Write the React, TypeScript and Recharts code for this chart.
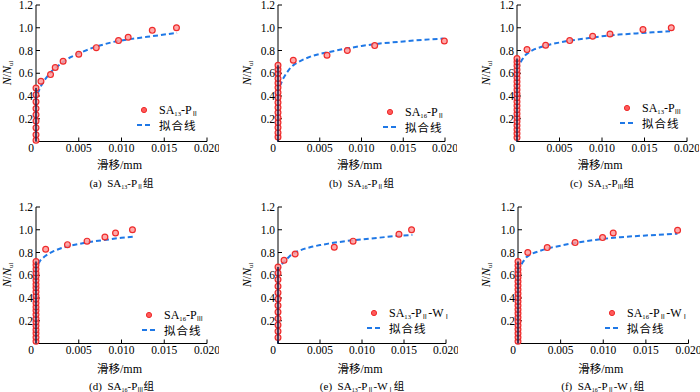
import React from 'react';
import { ComposedChart, Scatter, Line, XAxis, YAxis } from 'recharts';

type Pt = { x: number; y: number };

// ---------- data ----------
const xTicks = [0, 0.005, 0.01, 0.015, 0.02];
const yTicks = [0.2, 0.4, 0.6, 0.8, 1.0, 1.2];

const testA: Pt[] = [
  { x: 0, y: 0.01 }, { x: 0, y: 0.06 }, { x: 0, y: 0.12 }, { x: 0, y: 0.18 }, { x: 0, y: 0.235 },
  { x: 0, y: 0.29 }, { x: 0, y: 0.35 }, { x: 0, y: 0.41 }, { x: 0, y: 0.47 },
  { x: 0.00058, y: 0.53 }, { x: 0.0017, y: 0.588 }, { x: 0.00225, y: 0.65 }, { x: 0.00317, y: 0.705 },
  { x: 0.005, y: 0.767 }, { x: 0.00705, y: 0.825 }, { x: 0.00965, y: 0.887 }, { x: 0.01078, y: 0.916 },
  { x: 0.0136, y: 0.977 }, { x: 0.01643, y: 1.0 },
];
const fitA: Pt[] = [
  { x: 0, y: 0 }, { x: 0, y: 0.38 }, { x: 0.0003, y: 0.44 }, { x: 0.0006, y: 0.49 }, { x: 0.001, y: 0.54 },
  { x: 0.0015, y: 0.59 }, { x: 0.002, y: 0.63 }, { x: 0.003, y: 0.69 }, { x: 0.004, y: 0.74 },
  { x: 0.005, y: 0.775 }, { x: 0.007, y: 0.835 }, { x: 0.009, y: 0.875 }, { x: 0.011, y: 0.9 },
  { x: 0.013, y: 0.92 }, { x: 0.015, y: 0.94 }, { x: 0.0165, y: 0.955 },
];

const testB: Pt[] = [
  { x: 0, y: 0.04 }, { x: 0, y: 0.078 }, { x: 0, y: 0.122 }, { x: 0, y: 0.166 }, { x: 0, y: 0.21 },
  { x: 0, y: 0.254 }, { x: 0, y: 0.298 }, { x: 0, y: 0.342 }, { x: 0, y: 0.386 }, { x: 0, y: 0.43 },
  { x: 0, y: 0.474 }, { x: 0, y: 0.514 }, { x: 0, y: 0.553 }, { x: 0, y: 0.6 }, { x: 0, y: 0.635 },
  { x: 0, y: 0.67 },
  { x: 0.00183, y: 0.714 }, { x: 0.00587, y: 0.758 }, { x: 0.0083, y: 0.8 }, { x: 0.01158, y: 0.843 },
  { x: 0.01992, y: 0.884 },
];
const fitB: Pt[] = [
  { x: 0, y: 0 }, { x: 0, y: 0.47 }, { x: 0.0003, y: 0.5 }, { x: 0.0006, y: 0.55 }, { x: 0.001, y: 0.6 },
  { x: 0.0015, y: 0.65 }, { x: 0.002, y: 0.68 }, { x: 0.003, y: 0.72 }, { x: 0.004, y: 0.75 },
  { x: 0.005, y: 0.77 }, { x: 0.006, y: 0.785 }, { x: 0.008, y: 0.815 }, { x: 0.01, y: 0.84 },
  { x: 0.012, y: 0.86 }, { x: 0.015, y: 0.88 }, { x: 0.0175, y: 0.895 }, { x: 0.0198, y: 0.905 },
];

const testC: Pt[] = [
  { x: 0, y: 0.035 }, { x: 0, y: 0.07 }, { x: 0, y: 0.105 }, { x: 0, y: 0.14 }, { x: 0, y: 0.175 },
  { x: 0, y: 0.21 }, { x: 0, y: 0.245 }, { x: 0, y: 0.28 }, { x: 0, y: 0.315 }, { x: 0, y: 0.35 },
  { x: 0, y: 0.385 }, { x: 0, y: 0.42 }, { x: 0, y: 0.455 }, { x: 0, y: 0.49 }, { x: 0, y: 0.525 },
  { x: 0, y: 0.56 }, { x: 0, y: 0.595 }, { x: 0, y: 0.63 }, { x: 0, y: 0.665 }, { x: 0, y: 0.7 },
  { x: 0, y: 0.73 },
  { x: 0.00118, y: 0.808 }, { x: 0.00337, y: 0.846 }, { x: 0.0062, y: 0.887 }, { x: 0.0089, y: 0.925 },
  { x: 0.01094, y: 0.945 }, { x: 0.01482, y: 0.984 }, { x: 0.01815, y: 1.0 },
];
const fitC: Pt[] = [
  { x: 0, y: 0 }, { x: 0, y: 0.62 }, { x: 0.0003, y: 0.68 }, { x: 0.0006, y: 0.72 }, { x: 0.001, y: 0.76 },
  { x: 0.0015, y: 0.79 }, { x: 0.002, y: 0.81 }, { x: 0.003, y: 0.835 }, { x: 0.004, y: 0.855 },
  { x: 0.005, y: 0.87 }, { x: 0.006, y: 0.885 }, { x: 0.008, y: 0.905 }, { x: 0.01, y: 0.925 },
  { x: 0.012, y: 0.94 }, { x: 0.014, y: 0.95 }, { x: 0.016, y: 0.96 }, { x: 0.018, y: 0.97 },
];

const testD: Pt[] = [
  { x: 0, y: 0.02 }, { x: 0, y: 0.055 }, { x: 0, y: 0.09 }, { x: 0, y: 0.12 }, { x: 0, y: 0.155 },
  { x: 0, y: 0.19 }, { x: 0, y: 0.22 }, { x: 0, y: 0.255 }, { x: 0, y: 0.29 }, { x: 0, y: 0.32 },
  { x: 0, y: 0.355 }, { x: 0, y: 0.39 }, { x: 0, y: 0.42 }, { x: 0, y: 0.455 }, { x: 0, y: 0.49 },
  { x: 0, y: 0.52 }, { x: 0, y: 0.555 }, { x: 0, y: 0.59 }, { x: 0, y: 0.62 }, { x: 0, y: 0.655 },
  { x: 0, y: 0.69 }, { x: 0, y: 0.72 },
  { x: 0.00113, y: 0.828 }, { x: 0.00368, y: 0.869 }, { x: 0.00597, y: 0.9 }, { x: 0.00806, y: 0.936 },
  { x: 0.0093, y: 0.971 }, { x: 0.01128, y: 1.0 },
];
const fitD: Pt[] = [
  { x: 0, y: 0 }, { x: 0, y: 0.63 }, { x: 0.0002, y: 0.69 }, { x: 0.0005, y: 0.73 }, { x: 0.001, y: 0.765 },
  { x: 0.0015, y: 0.79 }, { x: 0.002, y: 0.81 }, { x: 0.003, y: 0.84 }, { x: 0.004, y: 0.86 },
  { x: 0.005, y: 0.875 }, { x: 0.006, y: 0.89 }, { x: 0.008, y: 0.91 }, { x: 0.01, y: 0.93 },
  { x: 0.0115, y: 0.94 },
];

const testE: Pt[] = [
  { x: 0, y: 0.052 }, { x: 0, y: 0.107 }, { x: 0, y: 0.163 }, { x: 0, y: 0.219 }, { x: 0, y: 0.277 },
  { x: 0, y: 0.333 }, { x: 0, y: 0.391 }, { x: 0, y: 0.447 }, { x: 0, y: 0.503 }, { x: 0, y: 0.562 },
  { x: 0, y: 0.62 }, { x: 0, y: 0.672 },
  { x: 0.00072, y: 0.731 }, { x: 0.00204, y: 0.787 }, { x: 0.0067, y: 0.846 }, { x: 0.00894, y: 0.9 },
  { x: 0.0144, y: 0.96 }, { x: 0.0159, y: 1.0 },
];
const fitE: Pt[] = [
  { x: 0, y: 0 }, { x: 0, y: 0.6 }, { x: 0.0002, y: 0.66 }, { x: 0.0005, y: 0.7 }, { x: 0.001, y: 0.74 },
  { x: 0.0015, y: 0.775 }, { x: 0.002, y: 0.8 }, { x: 0.003, y: 0.83 }, { x: 0.004, y: 0.85 },
  { x: 0.005, y: 0.865 }, { x: 0.006, y: 0.878 }, { x: 0.008, y: 0.9 }, { x: 0.01, y: 0.915 },
  { x: 0.012, y: 0.93 }, { x: 0.014, y: 0.945 }, { x: 0.016, y: 0.955 },
];

const testF: Pt[] = [
  { x: 0, y: 0.02 }, { x: 0, y: 0.055 }, { x: 0, y: 0.09 }, { x: 0, y: 0.125 }, { x: 0, y: 0.16 },
  { x: 0, y: 0.195 }, { x: 0, y: 0.23 }, { x: 0, y: 0.265 }, { x: 0, y: 0.3 }, { x: 0, y: 0.335 },
  { x: 0, y: 0.37 }, { x: 0, y: 0.405 }, { x: 0, y: 0.44 }, { x: 0, y: 0.475 }, { x: 0, y: 0.51 },
  { x: 0, y: 0.545 }, { x: 0, y: 0.58 }, { x: 0, y: 0.615 }, { x: 0, y: 0.65 }, { x: 0, y: 0.685 },
  { x: 0, y: 0.72 },
  { x: 0.00115, y: 0.8 }, { x: 0.00343, y: 0.843 }, { x: 0.0067, y: 0.887 }, { x: 0.00992, y: 0.931 },
  { x: 0.01117, y: 0.971 }, { x: 0.01872, y: 0.995 },
];
const fitF: Pt[] = [
  { x: 0, y: 0 }, { x: 0, y: 0.62 }, { x: 0.0002, y: 0.67 }, { x: 0.0006, y: 0.72 }, { x: 0.001, y: 0.76 },
  { x: 0.0015, y: 0.785 }, { x: 0.002, y: 0.8 }, { x: 0.003, y: 0.825 }, { x: 0.004, y: 0.845 },
  { x: 0.005, y: 0.86 }, { x: 0.006, y: 0.875 }, { x: 0.008, y: 0.9 }, { x: 0.01, y: 0.92 },
  { x: 0.012, y: 0.935 }, { x: 0.015, y: 0.95 }, { x: 0.0187, y: 0.965 },
];

// specimen names
const panelLetters = ['a', 'b', 'c', 'd', 'e', 'f'];
const specNums = ['13', '16', '13', '16', '13', '16'];
const pGrades = ['Ⅱ', 'Ⅱ', 'Ⅲ', 'Ⅲ', 'Ⅱ', 'Ⅱ'];
const wGrades = ['', '', '', '', 'Ⅰ', 'Ⅰ'];
const tests = [testA, testB, testC, testD, testE, testF];
const fits = [fitA, fitB, fitC, fitD, fitE, fitF];
const fitName = '拟合线';

// ---------- layout ----------
const SERIF = "'Liberation Serif', 'Times New Roman', 'Noto Sans CJK SC', serif";
const CJK = "'Noto Sans CJK SC', 'Liberation Serif', serif";
const layout = [
  { left: 36, top: 4.7, w: 171, legX: 137, legY: 110, yl: 7, xlY: 164, capY: 183 },
  { left: 278, top: 4.7, w: 167, legX: 383, legY: 112, yl: 247, xlY: 164, capY: 183 },
  { left: 517, top: 4.7, w: 170, legX: 620, legY: 108, yl: 486, xlY: 164, capY: 183 },
  { left: 36, top: 206.7, w: 171, legX: 142, legY: 315, yl: 7, xlY: 368, capY: 386 },
  { left: 278, top: 206.7, w: 168, legX: 367, legY: 313, yl: 247, xlY: 368, capY: 386 },
  { left: 517.5, top: 206.7, w: 170.5, legX: 605, legY: 313, yl: 486, xlY: 368, capY: 386 },
];
const PLOT_H = 136.5;

const subStyle: React.CSSProperties = { fontSize: '0.55em', verticalAlign: '-0.3em', lineHeight: 0 };

function SpecName({ i }: { i: number }) {
  return (
    <span>
      SA<span style={subStyle}>{specNums[i]}</span>-P<span style={subStyle}>{pGrades[i]}</span>
      {wGrades[i] ? (
        <>
          -W<span style={subStyle}>{wGrades[i]}</span>
        </>
      ) : null}
    </span>
  );
}

const XTick = (props: any) => {
  const { x, y, payload } = props;
  const v = payload.value as number;
  const label = v === 0 ? '0' : v.toFixed(3);
  return (
    <text x={v === 0 ? x - 5 : x} y={y} dy="0.75em" textAnchor="middle" fontSize={11.5} fontFamily={SERIF} fill="#000">
      {label}
    </text>
  );
};

const YTick = (props: any) => {
  const { x, y, payload } = props;
  return (
    <text x={x} y={y} dy="0.36em" textAnchor="end" fontSize={11.5} fontFamily={SERIF} fill="#000">
      {(payload.value as number).toFixed(1)}
    </text>
  );
};

const Dot = (props: any) => {
  const { cx, cy } = props;
  if (cx == null || cy == null) return null;
  return <circle cx={cx} cy={cy} r={2.9} fill="#ff9a9a" fillOpacity={0.85} stroke="#ee2b2b" strokeWidth={1.2} />;
};

const NoShape = () => <g />;

function Panel({ i }: { i: number }) {
  const L = layout[i];
  const ml = 40;
  const mt = 5;
  const mr = 12;
  const xh = 26;
  const width = ml + L.w + mr;
  const height = mt + PLOT_H + xh;
  const test = tests[i];
  const fit = fits[i];
  const vert = [{ x: 0, y: 0 }, ...test.filter((p) => p.x === 0)];
  const cx = L.left + L.w / 2;
  return (
    <>
      <div style={{ position: 'absolute', left: L.left - ml, top: L.top - mt }}>
        <ComposedChart width={width} height={height} margin={{ top: mt, right: mr, left: 0, bottom: 0 }}>
          <XAxis
            type="number"
            dataKey="x"
            domain={[0, 0.02]}
            ticks={xTicks}
            interval={0}
            height={xh}
            tickSize={-4}
            tickMargin={6}
            tick={<XTick />}
            stroke="#000"
          />
          <YAxis
            type="number"
            dataKey="y"
            domain={[0, 1.2]}
            ticks={yTicks}
            interval={0}
            width={ml}
            tickSize={-4}
            tickMargin={7}
            tick={<YTick />}
            stroke="#000"
          />
          <Line
            data={fit}
            dataKey="y"
            stroke="#1f78e6"
            strokeWidth={2}
            strokeDasharray="5 3"
            dot={false}
            isAnimationActive={false}
            name={fitName}
          />
          <Scatter data={test} dataKey="y" shape={<Dot />} isAnimationActive={false} />
          <Scatter
            data={vert}
            dataKey="y"
            shape={<NoShape />}
            line={{ stroke: '#14204a', strokeWidth: 1.5 }}
            isAnimationActive={false}
            legendType="none"
          />
        </ComposedChart>
      </div>
      {/* y label */}
      <div
        style={{
          position: 'absolute',
          left: L.yl - 30,
          top: L.top + 68 - 8,
          width: 60,
          height: 16,
          lineHeight: '16px',
          textAlign: 'center',
          transform: 'rotate(-90deg)',
          fontFamily: SERIF,
          fontSize: 12,
          whiteSpace: 'nowrap',
        }}
      >
        <i>N</i>/<i>N</i>
        <span style={subStyle}>ul</span>
      </div>
      {/* legend */}
      <div style={{ position: 'absolute', left: L.legX, top: L.legY - 8, fontFamily: SERIF, fontSize: 12, lineHeight: '16px', whiteSpace: 'nowrap' }}>
        <div style={{ display: 'flex', alignItems: 'center', height: 15 }}>
          <svg width={22} height={12}>
            <circle cx={7} cy={6} r={2.6} fill="#ff5a5a" stroke="#ee2b2b" strokeWidth={1} />
          </svg>
          <SpecName i={i} />
        </div>
        <div style={{ display: 'flex', alignItems: 'center', height: 15 }}>
          <svg width={22} height={12}>
            <line x1={0} y1={6} x2={15} y2={6} stroke="#1f78e6" strokeWidth={2} strokeDasharray="5 3" />
          </svg>
          <span style={{ fontFamily: CJK, fontSize: 11.5, letterSpacing: 1 }}>{fitName}</span>
        </div>
      </div>
      {/* x label */}
      <div
        style={{
          position: 'absolute',
          left: cx - 2 - 50,
          top: L.xlY - 8,
          width: 100,
          textAlign: 'center',
          lineHeight: '16px',
          fontFamily: SERIF,
          fontSize: 12,
          whiteSpace: 'nowrap',
        }}
      >
        <span style={{ fontFamily: CJK, fontSize: 11.5 }}>滑移</span>/mm
      </div>
      {/* caption */}
      <div
        style={{
          position: 'absolute',
          left: cx - 80,
          top: L.capY - 6,
          width: 160,
          height: 12,
          textAlign: 'center',
          lineHeight: '12px',
          fontFamily: SERIF,
          fontSize: 11,
          whiteSpace: 'nowrap',
        }}
      >
        ({panelLetters[i]})&nbsp;&nbsp;
        <SpecName i={i} />
        <span style={{ fontFamily: CJK, fontSize: 10.5 }}>组</span>
      </div>
    </>
  );
}

export default function App() {
  return (
    <div style={{ position: 'absolute', left: 0, top: 0, width: 700, height: 392, background: '#fff', overflow: 'hidden' }}>
      {[0, 1, 2, 3, 4, 5].map((i) => (
        <Panel key={i} i={i} />
      ))}
    </div>
  );
}
